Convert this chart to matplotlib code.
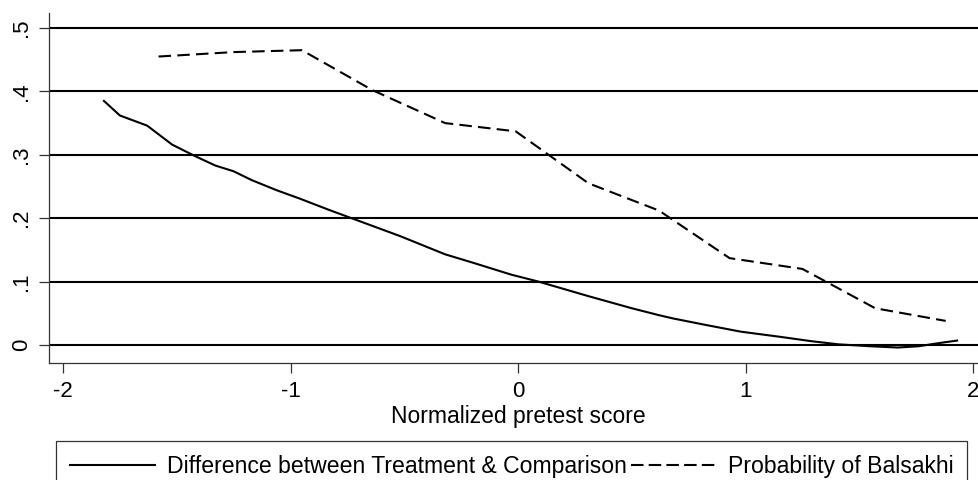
import matplotlib
matplotlib.use("Agg")
import matplotlib.pyplot as plt
from matplotlib.lines import Line2D

# Data
diff_x = [-1.82, -1.75, -1.63, -1.52, -1.42, -1.33, -1.25, -1.17, -1.06, -0.96,
          -0.83, -0.52, -0.32, -0.20, -0.03, 0.09, 0.31, 0.41, 0.50, 0.62,
          0.68, 0.82, 0.98, 1.15, 1.29, 1.41, 1.55, 1.67, 1.76, 1.85, 1.93]
diff_y = [0.385, 0.362, 0.346, 0.316, 0.298, 0.283, 0.274, 0.260, 0.244, 0.231,
          0.213, 0.172, 0.143, 0.130, 0.111, 0.100, 0.077, 0.067, 0.058, 0.047,
          0.042, 0.032, 0.021, 0.013, 0.006, 0.001, -0.002, -0.004, -0.002, 0.003, 0.007]

prob_x = [-1.58, -1.25, -0.95, -0.64, -0.32, -0.01, 0.31, 0.62, 0.93, 1.25, 1.57, 1.88]
prob_y = [0.455, 0.462, 0.465, 0.402, 0.350, 0.337, 0.255, 0.212, 0.137, 0.120, 0.058, 0.038]

x_ticks = [-2, -1, 0, 1, 2]
x_tick_labels = ["-2", "-1", "0", "1", "2"]
y_ticks = [0, 0.1, 0.2, 0.3, 0.4, 0.5]
y_tick_labels = ["0", ".1", ".2", ".3", ".4", ".5"]

label_diff = "Difference between Treatment & Comparison"
label_prob = "Probability of Balsakhi"
x_label = "Normalized pretest score"

plt.rcParams['font.family'] = ['Liberation Sans', 'DejaVu Sans']
FS_TICK = 16
FS_LABEL = 16.5
FS_LEG = 16.6

W, H = 979, 480
fig = plt.figure(figsize=(W / 100, H / 100), dpi=100)
ax = fig.add_axes([49 / W, 1 - 363 / H, 1 - 49 / W, (363 - 12.7) / H])

xmin = -2 - (63 - 49) / 227.5
xmax = -2 + (979 - 63) / 227.5
ax.set_xlim(xmin, xmax)
ax.set_ylim(-(363 - 345) / 634.0, 0.5 + (28 - 12.7) / 634.0)

for yv in y_ticks:
    ax.axhline(yv, color='black', lw=1.5, zorder=1)

ax.plot(diff_x, diff_y, color='black', lw=1.5, solid_joinstyle='round', zorder=3)
ax.plot(prob_x, prob_y, color='black', lw=1.5, linestyle=(0, (6, 3)), zorder=3)

for s in ['top', 'right']:
    ax.spines[s].set_visible(False)
for s in ['left', 'bottom']:
    ax.spines[s].set_color('#333333')
    ax.spines[s].set_linewidth(0.9)

ax.set_xticks(x_ticks)
ax.set_xticklabels(x_tick_labels, fontsize=FS_TICK)
ax.set_yticks(y_ticks)
ax.set_yticklabels(y_tick_labels, fontsize=FS_TICK, rotation=90, va='center')
ax.tick_params(axis='both', direction='out', length=7, width=0.9, color='#333333')
ax.tick_params(axis='x', pad=6)
ax.tick_params(axis='y', pad=5)

ax.set_xlabel(x_label, fontsize=FS_LABEL)
ax.xaxis.set_label_coords((0 - xmin) / (xmax - xmin), -0.12)

handles = [Line2D([], [], color='black', lw=1.5),
           Line2D([], [], color='black', lw=1.5, linestyle=(0, (6, 2.5)))]
leg = fig.legend(handles, [label_diff, label_prob], ncol=2, loc='upper left',
                 bbox_to_anchor=(56 / W, 1 - 441 / H), fontsize=FS_LEG,
                 frameon=True, fancybox=False, edgecolor='black',
                 handlelength=3.7, handletextpad=0.5, columnspacing=0.2,
                 borderpad=0.6, borderaxespad=0)
leg.get_frame().set_linewidth(0.9)

fig.savefig("out.png", dpi=100)
